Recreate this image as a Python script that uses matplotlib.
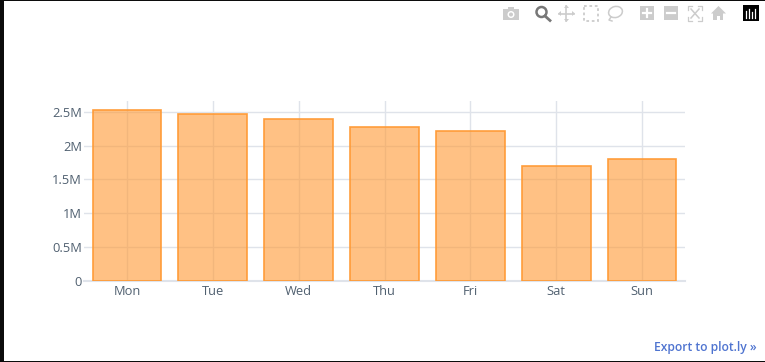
import matplotlib
matplotlib.use("Agg")
from matplotlib import pyplot as plt
from matplotlib.patches import Rectangle, Circle, Polygon, Ellipse

plt.rcParams['font.family'] = ['Open Sans', 'DejaVu Sans']

days = ['Mon', 'Tue', 'Wed', 'Thu', 'Fri', 'Sat', 'Sun']
counts = [2530000, 2470000, 2396000, 2282000, 2222000, 1705000, 1805000]
y_ticks = [0, 500000, 1000000, 1500000, 2000000, 2500000]
y_labels = ['0', '0.5M', '1M', '1.5M', '2M', '2.5M']

W, H = 765, 362
TICK = '#506070'
GRID = '#dfe3ea'
ICON = '#cccccc'

fig = plt.figure(figsize=(W / 100, H / 100), dpi=100, facecolor='white')

# plot area, in pixels from the top left
left, right, top, bottom = 84, 685, 101, 280.5
ax = fig.add_axes([left / W, 1 - bottom / H, (right - left) / W, (bottom - top) / H])
ax.set_xlim(-0.5, 6.5)
ax.set_ylim(0, 2663000)

ax.bar(range(len(days)), counts, width=0.8, color=(1, 0.6, 0.2, 0.6),
       edgecolor=(1, 0.6, 0.2, 0.95), linewidth=1.2, zorder=3)

ax.set_xticks(range(len(days)))
ax.set_xticklabels(days)
ax.set_yticks(y_ticks)
ax.set_yticklabels(y_labels)
ax.tick_params(axis='both', length=0, labelsize=9.3, labelcolor=TICK)
ax.tick_params(axis='x', pad=3)
ax.tick_params(axis='y', pad=1.5)
ax.grid(True, color=GRID, linewidth=1, zorder=1)
ax.set_axisbelow(True)
for name in ['top', 'right', 'left']:
    ax.spines[name].set_visible(False)
ax.spines['bottom'].set_color(GRID)
ax.spines['bottom'].set_linewidth(1.5)

# overlay in pixel coordinates for the page frame and the modebar
ov = fig.add_axes([0, 0, 1, 1], zorder=10)
ov.set_xlim(0, W)
ov.set_ylim(H, 0)
ov.axis('off')
ov.patch.set_alpha(0)

ov.add_patch(Rectangle((0, 0), 4, H, color='#0c0c0c', lw=0))
ov.add_patch(Rectangle((0, 0), W, 1, color='#0c0c0c', lw=0))
ov.add_patch(Rectangle((0, 361), W, 1, color='#0c0c0c', lw=0))

# camera
ov.add_patch(Rectangle((503, 9), 16, 11, color=ICON, lw=0))
ov.add_patch(Rectangle((508, 7), 6, 3, color=ICON, lw=0))
ov.add_patch(Circle((511, 14.5), 3.5, fc='white', ec='none'))
ov.add_patch(Circle((511, 14.5), 2, fc=ICON, ec='none'))
# zoom, the active one
ov.add_patch(Circle((541.5, 12), 5, fc='none', ec='#777777', lw=1.8))
ov.plot([545, 550], [16, 20.5], color='#777777', lw=2)
# pan
ov.plot([559, 574], [13.5, 13.5], color=ICON, lw=1.2)
ov.plot([566.5, 566.5], [6, 21], color=ICON, lw=1.2)
for pts in ([(558, 13.5), (561, 11), (561, 16)], [(575, 13.5), (572, 11), (572, 16)],
            [(566.5, 5), (564, 8), (569, 8)], [(566.5, 22), (564, 19), (569, 19)]):
    ov.add_patch(Polygon(pts, color=ICON, lw=0))
# box select
ov.add_patch(Rectangle((584.5, 6), 14, 15, fc='none', ec=ICON, lw=1.3, ls=(0, (1.5, 1.5))))
# lasso
ov.add_patch(Ellipse((615.5, 12), 14, 11, angle=-15, fc='none', ec=ICON, lw=1.1))
ov.plot([611, 609, 612], [17, 20, 21], color=ICON, lw=1.1)
# zoom in / out
ov.add_patch(Rectangle((640, 6), 14, 14, color=ICON, lw=0))
ov.plot([643, 651], [13, 13], color='white', lw=1.6)
ov.plot([647, 647], [9, 17], color='white', lw=1.6)
ov.add_patch(Rectangle((664, 6), 14, 14, color=ICON, lw=0))
ov.plot([667, 675], [13, 13], color='white', lw=1.6)
# autoscale
for cx, cy, dx, dy in [(688, 6, 1, 1), (702, 6, -1, 1), (688, 21, 1, -1), (702, 21, -1, -1)]:
    ov.plot([cx + 4 * dx, cx, cx], [cy, cy, cy + 4 * dy], color=ICON, lw=0.9)
ov.plot([691, 699], [9, 18], color=ICON, lw=1.1)
ov.plot([699, 691], [9, 18], color=ICON, lw=1.1)
# home
ov.add_patch(Polygon([(711, 13.5), (718.5, 6), (726, 13.5)], color=ICON, lw=0))
ov.add_patch(Rectangle((713.5, 13), 10, 7, color=ICON, lw=0))
ov.add_patch(Rectangle((717, 16), 3, 4, color='white', lw=0))
# plotly logo
ov.add_patch(Rectangle((743, 5), 16, 16, color='black', lw=0))
for x, y1 in [(746, 11), (749, 9), (752, 12), (755, 9)]:
    ov.plot([x, x], [y1, 18], color='#ffffff', lw=0.9)

ov.text(757, 347.5, 'Export to plot.ly »', color='#4f74d0', fontsize=8.7, weight='semibold',
        ha='right', va='center')

fig.savefig('out.png', dpi=100)
